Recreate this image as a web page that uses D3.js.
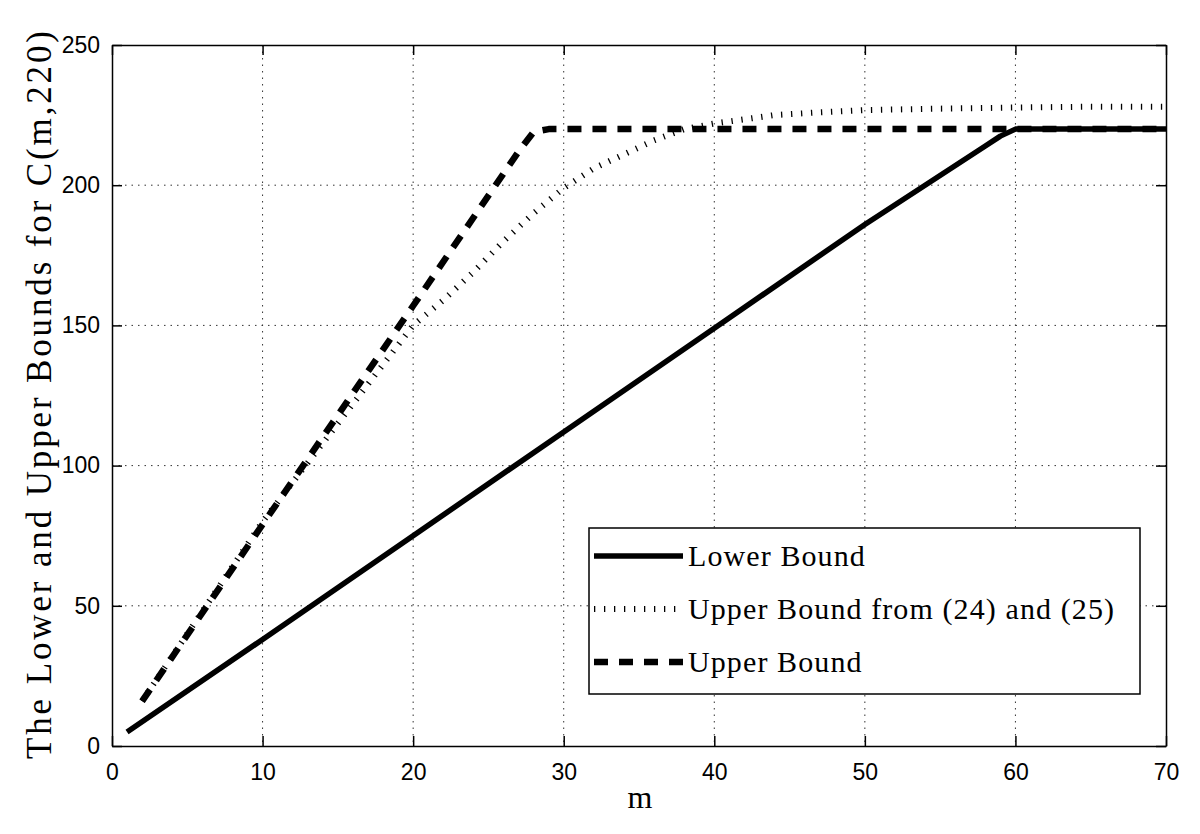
<!DOCTYPE html>
<html lang="en">
<head>
<meta charset="utf-8">
<title>Bounds for C(m,220)</title>
<script src="https://d3js.org/d3.v7.min.js"></script>
<style>
  body { margin: 0; background: #fff; }
  .tick text { font-family: "Liberation Sans", Arial, sans-serif; font-size: 23px; fill: #000; }
</style>
</head>
<body>
<svg width="1200" height="834"></svg>
<script>
// data
var lowerM   = [1, 10, 20, 30, 40, 50, 58, 59, 60, 65, 70];
var lowerVal = [5, 38, 75, 112, 149, 186, 214, 217.5, 220, 220, 220];

var ub2425M   = [2, 6, 10, 14, 16, 18, 20, 22, 24, 26, 28, 30, 32, 34, 36, 38, 40, 42, 44, 47, 50, 55, 60, 65, 70];
var ub2425Val = [16, 48, 80, 108, 122, 136, 150, 159, 169, 180, 190, 199, 206, 211, 216, 220, 222, 223.5, 225, 226, 226.8, 227.3, 227.7, 228, 228];

var upperM   = [2, 10, 20, 27, 28, 29, 40, 50, 60, 70];
var upperVal = [16, 79, 157, 212, 219, 220, 220, 220, 220, 220];

var xTicks = [0, 10, 20, 30, 40, 50, 60, 70];
var yTicks = [0, 50, 100, 150, 200, 250];

var legendNames = ["Lower Bound", "Upper Bound from (24) and (25)", "Upper Bound"];

var marge = {top: 45, bottom: 88, left: 112, right: 34};
var svg = d3.select("svg");
var width = +svg.attr("width") - marge.left - marge.right;
var height = +svg.attr("height") - marge.top - marge.bottom;
var g = svg.append("g").attr("transform", "translate(" + marge.left + "," + marge.top + ")");

var x = d3.scaleLinear().domain([0, 70]).range([0, width]);
var y = d3.scaleLinear().domain([0, 250]).range([height, 0]);

// grid
g.selectAll(".gx").data(xTicks.slice(1, -1)).enter().append("line")
  .attr("x1", d => x(d)).attr("x2", d => x(d)).attr("y1", 0).attr("y2", height)
  .attr("stroke", "#333").attr("stroke-width", 1).attr("stroke-dasharray", "1.5,5");
g.selectAll(".gy").data(yTicks.slice(1, -1)).enter().append("line")
  .attr("y1", d => y(d)).attr("y2", d => y(d)).attr("x1", 0).attr("x2", width)
  .attr("stroke", "#333").attr("stroke-width", 1).attr("stroke-dasharray", "1.5,5");

// axes with inward ticks, box all round
var fmt = d3.format("d");
g.append("g").attr("transform", "translate(0," + height + ")")
  .call(d3.axisBottom(x).tickValues(xTicks).tickSizeInner(-10).tickSizeOuter(0).tickPadding(18).tickFormat(fmt));
g.append("g")
  .call(d3.axisLeft(y).tickValues(yTicks).tickSizeInner(-10).tickSizeOuter(0).tickPadding(12).tickFormat(fmt));
g.append("g")
  .call(d3.axisTop(x).tickValues(xTicks).tickSizeInner(-10).tickSizeOuter(0).tickFormat(""));
g.append("g").attr("transform", "translate(" + width + ",0)")
  .call(d3.axisRight(y).tickValues(yTicks).tickSizeInner(-10).tickSizeOuter(0).tickFormat(""));
g.selectAll(".domain, .tick line").attr("stroke", "#000").attr("stroke-width", 1.5);

svg.append("clipPath").attr("id", "clip").append("rect")
  .attr("x", 0).attr("y", 0).attr("width", width).attr("height", height);

var line = d3.line().x(d => x(d[0])).y(d => y(d[1]));
var styles = [
  {w: 5.5, dash: null},
  {w: 6, dash: "1.3,8.7"},
  {w: 6.5, dash: "14,11"}
];
var series = [
  d3.zip(lowerM, lowerVal),
  d3.zip(ub2425M, ub2425Val),
  d3.zip(upperM, upperVal)
];
var lines = g.append("g").attr("clip-path", "url(#clip)");
series.forEach(function (s, i) {
  lines.append("path").datum(s).attr("d", line)
    .attr("fill", "none").attr("stroke", "#000")
    .attr("stroke-width", styles[i].w)
    .attr("stroke-dasharray", styles[i].dash)
    .attr("stroke-linejoin", "round");
});

// legend
var lg = g.append("g").attr("transform", "translate(" + (589 - marge.left) + "," + (528 - marge.top) + ")");
lg.append("rect").attr("width", 551).attr("height", 166)
  .attr("fill", "#fff").attr("stroke", "#000").attr("stroke-width", 1.5);
legendNames.forEach(function (name, i) {
  var yy = 28 + i * 53;
  lg.append("line").attr("x1", 5).attr("x2", 94).attr("y1", yy).attr("y2", yy)
    .attr("stroke", "#000").attr("stroke-width", styles[i].w)
    .attr("stroke-dasharray", styles[i].dash);
  lg.append("text").attr("x", 99).attr("y", yy + 10)
    .attr("font-family", "Liberation Serif, serif").attr("font-size", 30)
    .attr("letter-spacing", 1.1)
    .text(name);
});

// axis titles
svg.append("text").attr("x", 640).attr("y", 808).attr("text-anchor", "middle")
  .attr("font-family", "Liberation Serif, serif").attr("font-size", 32).text("m");
svg.append("text").attr("transform", "translate(51,395) rotate(-90)")
  .attr("text-anchor", "middle")
  .attr("font-family", "Liberation Serif, serif").attr("font-size", 35)
  .attr("textLength", 728).attr("lengthAdjust", "spacing")
  .text("The Lower and Upper Bounds for C(m,220)");
</script>
</body>
</html>
